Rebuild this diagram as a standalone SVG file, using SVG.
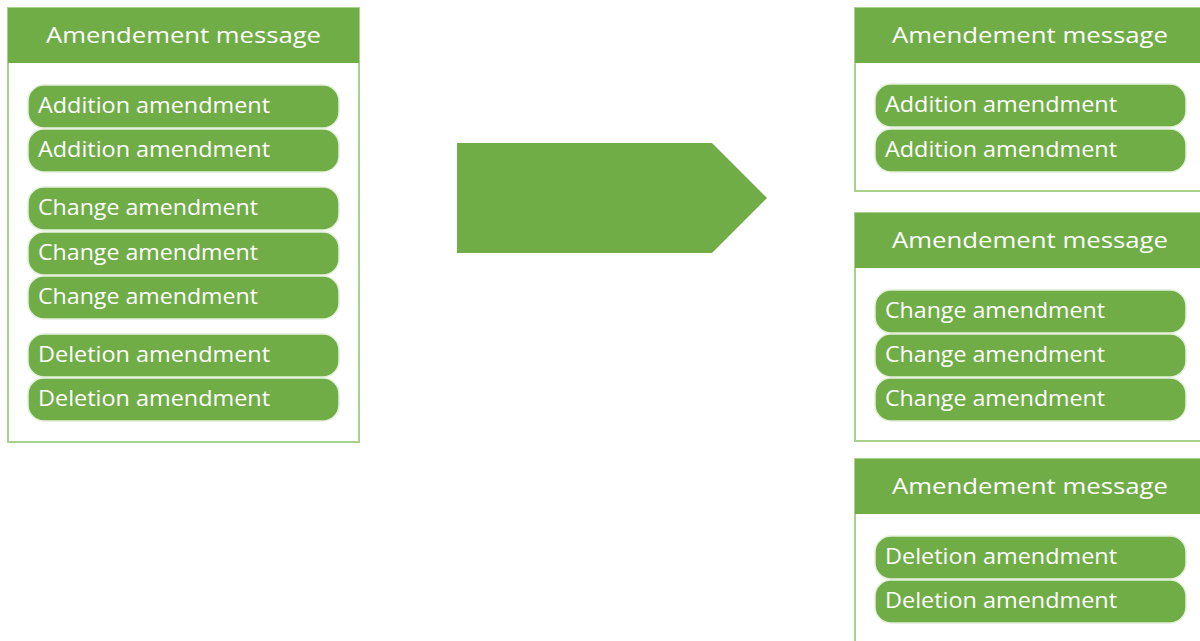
<svg xmlns="http://www.w3.org/2000/svg" width="1200" height="641" viewBox="0 0 1200 641">
<style>
.box{fill:#fff;stroke:#a9d18e;stroke-width:2}
.hdr{fill:#70ad47}
.pill{fill:#70ad47;stroke:#e2efd9;stroke-width:1.5}
.ht{font-family:"Open Sans","Noto Sans",sans-serif;font-size:22px;fill:#fff;text-anchor:middle}
.pt{font-family:"Open Sans","Noto Sans",sans-serif;font-size:22px;fill:#fff}
</style>
<rect width="1200" height="641" fill="#fff"/>
<g id="left-message">
<rect class="box" x="8" y="8" width="351" height="434"/>
<rect class="hdr" x="8" y="8" width="351" height="55"/>
<text class="ht" x="183.5" y="43" textLength="275" lengthAdjust="spacingAndGlyphs">Amendement message</text>
<rect class="pill" x="28" y="85" width="311" height="43" rx="16"/>
<text class="pt" x="38" y="113" textLength="232" lengthAdjust="spacingAndGlyphs">Addition amendment</text>
<rect class="pill" x="28" y="129" width="311" height="43" rx="16"/>
<text class="pt" x="38" y="157" textLength="232" lengthAdjust="spacingAndGlyphs">Addition amendment</text>
<rect class="pill" x="28" y="187" width="311" height="43" rx="16"/>
<text class="pt" x="38" y="215" textLength="220" lengthAdjust="spacingAndGlyphs">Change amendment</text>
<rect class="pill" x="28" y="232" width="311" height="43" rx="16"/>
<text class="pt" x="38" y="260" textLength="220" lengthAdjust="spacingAndGlyphs">Change amendment</text>
<rect class="pill" x="28" y="276" width="311" height="43" rx="16"/>
<text class="pt" x="38" y="304" textLength="220" lengthAdjust="spacingAndGlyphs">Change amendment</text>
<rect class="pill" x="28" y="334" width="311" height="43" rx="16"/>
<text class="pt" x="38" y="362" textLength="232" lengthAdjust="spacingAndGlyphs">Deletion amendment</text>
<rect class="pill" x="28" y="378" width="311" height="43" rx="16"/>
<text class="pt" x="38" y="406" textLength="232" lengthAdjust="spacingAndGlyphs">Deletion amendment</text>
</g>
<g id="arrow">
<polygon points="457,143 712,143 767,198 712,253 457,253" fill="#70ad47"/>
</g>
<g id="right-message-1">
<rect class="box" x="855" y="8" width="400" height="183"/>
<rect class="hdr" x="855" y="8" width="400" height="55"/>
<text class="ht" x="1030" y="43" textLength="276" lengthAdjust="spacingAndGlyphs">Amendement message</text>
<rect class="pill" x="875" y="84" width="311" height="43" rx="16"/>
<text class="pt" x="885" y="112" textLength="232" lengthAdjust="spacingAndGlyphs">Addition amendment</text>
<rect class="pill" x="875" y="129" width="311" height="43" rx="16"/>
<text class="pt" x="885" y="157" textLength="232" lengthAdjust="spacingAndGlyphs">Addition amendment</text>
</g>
<g id="right-message-2">
<rect class="box" x="855" y="213" width="400" height="228"/>
<rect class="hdr" x="855" y="213" width="400" height="55"/>
<text class="ht" x="1030" y="248" textLength="276" lengthAdjust="spacingAndGlyphs">Amendement message</text>
<rect class="pill" x="875" y="290" width="311" height="43" rx="16"/>
<text class="pt" x="885" y="318" textLength="220" lengthAdjust="spacingAndGlyphs">Change amendment</text>
<rect class="pill" x="875" y="334" width="311" height="43" rx="16"/>
<text class="pt" x="885" y="362" textLength="220" lengthAdjust="spacingAndGlyphs">Change amendment</text>
<rect class="pill" x="875" y="378" width="311" height="43" rx="16"/>
<text class="pt" x="885" y="406" textLength="220" lengthAdjust="spacingAndGlyphs">Change amendment</text>
</g>
<g id="right-message-3">
<rect class="box" x="855" y="459" width="400" height="220"/>
<rect class="hdr" x="855" y="459" width="400" height="55"/>
<text class="ht" x="1030" y="494" textLength="276" lengthAdjust="spacingAndGlyphs">Amendement message</text>
<rect class="pill" x="875" y="536" width="311" height="43" rx="16"/>
<text class="pt" x="885" y="564" textLength="232" lengthAdjust="spacingAndGlyphs">Deletion amendment</text>
<rect class="pill" x="875" y="580" width="311" height="43" rx="16"/>
<text class="pt" x="885" y="608" textLength="232" lengthAdjust="spacingAndGlyphs">Deletion amendment</text>
</g>
<g id="connectors"></g>
</svg>
